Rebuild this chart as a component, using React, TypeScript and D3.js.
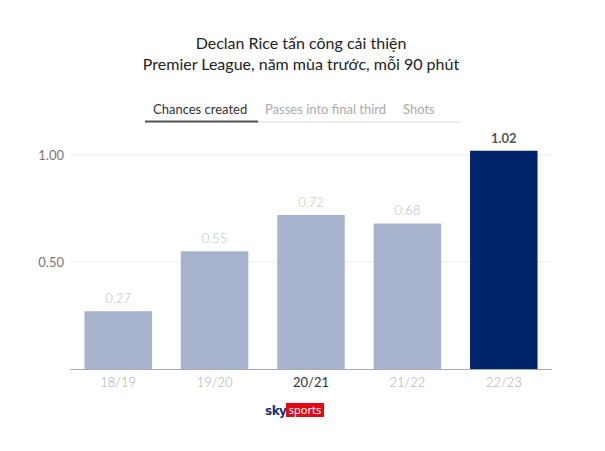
import React from "react";
import * as d3 from "d3";

const seasons = ["18/19", "19/20", "20/21", "21/22", "22/23"];
const values = [0.27, 0.55, 0.72, 0.68, 1.02];
const yTicks = [0.5, 1.0];
const tabs = ["Chances created", "Passes into final third", "Shots"];
const titleLines = ["Declan Rice tấn công cải thiện", "Premier League, năm mùa trước, mỗi 90 phút"];

const W = 605, H = 451;
const left = 70, right = 552, baseY = 369;

export default function App() {
  const x = d3.scaleBand<string>().domain(seasons).range([left, right]).paddingInner(0.3).paddingOuter(0.15);
  const y = d3.scaleLinear().domain([0, 1]).range([baseY, baseY - 214]);
  const font = "Lato, 'Noto Sans', sans-serif";
  return (
    <svg width={W} height={H} style={{ position: "absolute", left: 0, top: 0, background: "#fff" }} fontFamily={font}>
      <rect width={W} height={H} fill="#fff" />
      {titleLines.map((t, i) => (
        <text key={i} x={301} y={49 + i * 20.5} textAnchor="middle" fontSize={16} fill="#222">{t}</text>
      ))}
      {/* tabs */}
      <line x1={145} x2={460} y1={122} y2={122} stroke="#ddd" strokeWidth={1} />
      <line x1={145} x2={258} y1={121.5} y2={121.5} stroke="#555" strokeWidth={2} />
      <text x={153} y={114} fontSize={13} fill="#333">{tabs[0]}</text>
      <text x={265} y={114} fontSize={13} fill="#aaa">{tabs[1]}</text>
      <text x={403} y={114} fontSize={13} fill="#aaa">{tabs[2]}</text>
      {/* grid */}
      {yTicks.map((t) => (
        <g key={t}>
          <line x1={left} x2={right} y1={y(t)} y2={y(t)} stroke="#ececec" />
          <text x={64} y={y(t)} dy="0.35em" textAnchor="end" fontSize={13} fill="#777">{t.toFixed(2)}</text>
        </g>
      ))}
      {seasons.map((s, i) => {
        const last = i === seasons.length - 1;
        return (
          <g key={s}>
            <rect x={x(s)} y={y(values[i])} width={x.bandwidth()} height={baseY - y(values[i])} fill={last ? "#002469" : "#a7b3cd"} />
            <text x={x(s)! + x.bandwidth() / 2} y={y(values[i]) - 8} textAnchor="middle" fontSize={13}
              fill={last ? "#555" : "#bbb"} fontWeight={last ? 700 : 300}>{values[i].toFixed(2)}</text>
            <text x={x(s)! + x.bandwidth() / 2} y={387} textAnchor="middle" fontSize={13}
              fill={s === "20/21" ? "#333" : "#aaa"} fontWeight={s === "20/21" ? 400 : 300}>{s}</text>
          </g>
        );
      })}
      <line x1={left} x2={right} y1={baseY + 0.5} y2={baseY + 0.5} stroke="#aaa" />
      {/* logo */}
      <text x={265} y={415} fontSize={12} fontWeight={900} fill="#1b2f6e" fontFamily="'DejaVu Sans', sans-serif" letterSpacing={-0.5}>sky</text>
      <rect x={286} y={403} width={38} height={14} fill="#e10a17" />
      <text x={305} y={414} fontSize={11} fill="#fff" textAnchor="middle" fontFamily="'Noto Sans', sans-serif">sports</text>
    </svg>
  );
}
